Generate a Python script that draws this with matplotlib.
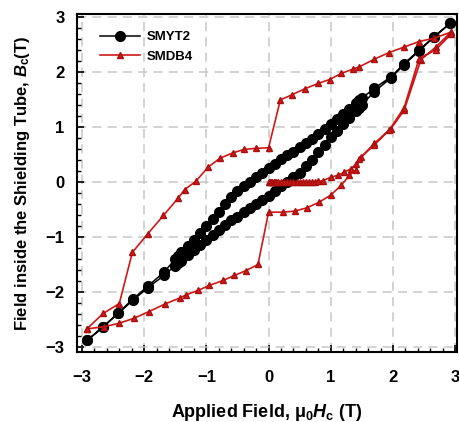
import numpy as np
import matplotlib
matplotlib.use("Agg")
import matplotlib.pyplot as plt
from matplotlib.ticker import MultipleLocator

plt.rcParams['font.family'] = ['Liberation Sans', 'DejaVu Sans']
plt.rcParams['font.weight'] = 'bold'
plt.rcParams['mathtext.fontset'] = 'custom'
plt.rcParams['mathtext.rm'] = 'Liberation Sans:bold'
plt.rcParams['mathtext.it'] = 'Liberation Sans:italic:bold'
plt.rcParams['mathtext.bf'] = 'Liberation Sans:bold'

# SMYT2: increasing branch (-3 -> 3) then decreasing branch (3 -> -3)
smyt_up_x = [-2.92, -2.66, -2.42, -2.18, -1.94, -1.68, -1.5, -1.45, -1.4, -1.3, -1.2,
             -1.1, -1.0, -0.9, -0.8, -0.7, -0.6, -0.5, -0.4, -0.3, -0.2, -0.1, 0.0,
             0.1, 0.2, 0.3, 0.4, 0.5, 0.6, 0.7, 0.8, 0.9, 1.0, 1.1, 1.2, 1.3, 1.4,
             1.45, 1.5, 1.7, 1.97, 2.18, 2.42, 2.66, 2.92]
smyt_up_y = [-2.88, -2.64, -2.39, -2.15, -1.92, -1.70, -1.52, -1.48, -1.43, -1.33, -1.24,
             -1.14, -1.06, -0.96, -0.87, -0.78, -0.70, -0.63, -0.55, -0.48, -0.41, -0.33, -0.25,
             -0.17, -0.08, 0.0, 0.08, 0.17, 0.28, 0.40, 0.54, 0.67, 0.81, 0.93, 1.05, 1.16, 1.28,
             1.34, 1.40, 1.64, 1.89, 2.13, 2.38, 2.63, 2.88]
smyt_dn_x = [2.92, 2.66, 2.42, 2.18, 1.97, 1.7, 1.5, 1.45, 1.4, 1.3, 1.2, 1.1, 1.0,
             0.9, 0.8, 0.7, 0.6, 0.5, 0.4, 0.3, 0.2, 0.1, 0.0, -0.1, -0.2, -0.3, -0.4,
             -0.5, -0.6, -0.7, -0.8, -0.9, -1.0, -1.1, -1.2, -1.3, -1.4, -1.45, -1.5,
             -1.68, -1.94, -2.18, -2.42, -2.66, -2.92]
smyt_dn_y = [2.88, 2.64, 2.39, 2.15, 1.91, 1.70, 1.52, 1.48, 1.43, 1.33, 1.24, 1.14, 1.06,
             0.96, 0.87, 0.78, 0.70, 0.63, 0.55, 0.48, 0.41, 0.33, 0.25, 0.17, 0.08, 0.0, -0.08,
             -0.17, -0.28, -0.40, -0.54, -0.67, -0.81, -0.93, -1.05, -1.16, -1.28, -1.34, -1.40,
             -1.64, -1.89, -2.13, -2.38, -2.63, -2.88]

# SMDB4: virgin curve, decreasing branch, increasing branch
smdb_virgin_x = [0.0, 0.02, 0.04, 0.06, 0.08, 0.1, 0.12, 0.15, 0.2, 0.25, 0.3, 0.35, 0.4,
                 0.45, 0.5, 0.55, 0.6, 0.65, 0.7, 0.75, 0.8, 0.87, 1.01, 1.12, 1.22, 1.33,
                 1.41, 1.49, 1.70, 1.97, 2.18, 2.45, 2.69, 2.93]
smdb_virgin_y = [0.0, 0.0, 0.0, 0.0, 0.0, 0.0, 0.0, 0.0, 0.0, 0.0, 0.0, 0.0, 0.0,
                 0.0, 0.0, 0.0, 0.0, 0.0, 0.0, 0.0, 0.01, 0.02, 0.09, 0.12, 0.18, 0.24,
                 0.33, 0.45, 0.70, 0.97, 1.30, 2.22, 2.45, 2.72]
smdb_dn_x = [2.93, 2.66, 2.42, 2.18, 1.94, 1.70, 1.46, 1.36, 1.17, 0.98, 0.80, 0.58, 0.37,
             0.19, 0.0, -0.2, -0.39, -0.57, -0.78, -0.97, -1.17, -1.35, -1.45, -1.69,
             -1.94, -2.19, -2.40, -2.66, -2.92]
smdb_dn_y = [2.72, 2.61, 2.55, 2.45, 2.35, 2.23, 2.09, 2.05, 1.97, 1.86, 1.79, 1.69, 1.58,
             1.49, 0.62, 0.61, 0.59, 0.53, 0.43, 0.27, 0.01, -0.14, -0.29, -0.61,
             -0.94, -1.28, -2.21, -2.39, -2.67]
smdb_up_x = [-2.92, -2.64, -2.41, -2.17, -1.93, -1.67, -1.43, -1.32, -1.13, -0.95, -0.73,
             -0.55, -0.36, -0.17, 0.0, 0.24, 0.42, 0.62, 0.81, 1.0, 1.17, 1.30, 1.40,
             1.46, 1.70, 1.94, 2.18, 2.42, 2.69, 2.93]
smdb_up_y = [-2.67, -2.63, -2.57, -2.48, -2.36, -2.22, -2.11, -2.05, -1.97, -1.88, -1.79,
             -1.70, -1.61, -1.50, -0.55, -0.55, -0.53, -0.47, -0.37, -0.24, -0.06, 0.12, 0.21,
             0.42, 0.67, 0.94, 1.35, 2.24, 2.40, 2.68]

black_x = smyt_up_x + smyt_dn_x
black_y = smyt_up_y + smyt_dn_y
red_x = smdb_virgin_x + smdb_dn_x + smdb_up_x
red_y = smdb_virgin_y + smdb_dn_y + smdb_up_y

red = '#d01818'

fig = plt.figure(figsize=(4.6, 4.22), dpi=100)
ax = fig.add_axes([77 / 460, 70 / 422, 380 / 460, 338 / 422])

ax.plot(black_x, black_y, '-o', color='k', lw=1.1, ms=7, label='SMYT2', zorder=3)
ax.plot(red_x, red_y, '-^', color=red, mec='#a81010', lw=1.2, ms=4.5, label='SMDB4', zorder=4)

ax.set_xlim(-3.08, 3.03)
ax.set_ylim(-3.09, 3.05)
ax.xaxis.set_major_locator(MultipleLocator(1))
ax.xaxis.set_minor_locator(MultipleLocator(0.2))
ax.yaxis.set_major_locator(MultipleLocator(1))
ax.yaxis.set_minor_locator(MultipleLocator(0.2))
ax.tick_params(which='major', direction='in', length=5, width=1.2, labelsize=12)
ax.tick_params(axis='x', which='major', pad=13)
ax.tick_params(axis='y', which='major', pad=9)
ax.tick_params(which='minor', direction='in', length=3, width=1)
ax.grid(True, which='major', color='#c8c8c8', linestyle=(0, (6, 4)), lw=1.1, zorder=0)
for s in ax.spines.values():
    s.set_linewidth(1.5)

ax.set_xlabel('Applied Field, $\\mathrm{\u03bc}_\\mathrm{0}H_\\mathrm{c}$ (T)',
              fontsize=13, fontweight='bold', labelpad=12)
ax.set_ylabel('Field inside the Shielding Tube, $B_\\mathrm{c}$(T)',
              fontsize=12, fontweight='bold', labelpad=10)

ax.legend(loc='upper left', bbox_to_anchor=(0.03, 0.985), frameon=False,
          fontsize=9.5, handlelength=3, handletextpad=0.5, labelspacing=0.55)

fig.savefig('out.png', dpi=100)
